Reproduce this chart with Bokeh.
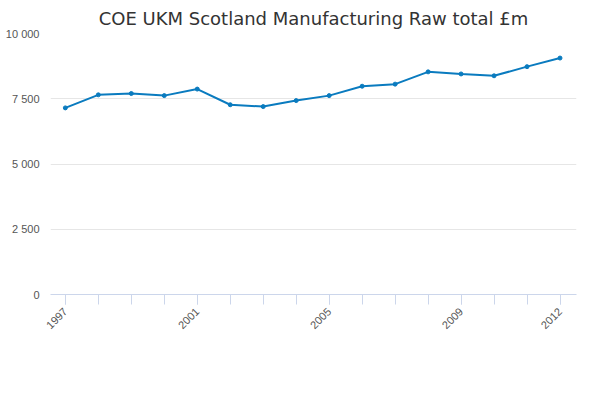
from bokeh.plotting import figure
from bokeh.models import Legend, Label, FixedTicker, Range1d, CustomJSTickFormatter
from bokeh.embed import file_html
from bokeh.resources import INLINE
import math

years = list(range(1997, 2013))
values = [7150, 7650, 7700, 7620, 7870, 7270, 7200, 7430, 7620, 7980, 8060, 8530, 8450, 8380, 8730, 9060]
series_name = "COE UKM Scotland Manufacturing Raw total £m"
y_ticks = [0, 2500, 5000, 7500, 10000]
x_ticks = [1997, 2001, 2005, 2009, 2012]

p = figure(width=584, height=384, output_backend="svg", toolbar_location=None,
           title="COE UKM Scotland Manufacturing Raw total £m",
           x_range=Range1d(1996.55, 2012.5), y_range=Range1d(0, 10000),
           min_border_left=50, min_border_right=8, min_border_top=8, min_border_bottom=90)
p.title.text_font = "DejaVu Sans"
p.title.text_font_size = "18px"
p.title.text_font_style = "normal"
p.title.text_color = "#333333"
p.title.align = "center"

r = p.line(years, values, line_color="#0a7bbf", line_width=2)
s = p.scatter(years, values, size=4, color="#0a7bbf")

p.xaxis.ticker = FixedTicker(ticks=x_ticks, minor_ticks=years)
p.xaxis.major_label_orientation = math.pi / 4
p.xaxis.major_label_text_font_size = "11px"
p.xaxis.major_label_text_color = "#555555"
p.xaxis.axis_line_color = "#ccd6eb"
p.xaxis.major_tick_line_color = "#ccd6eb"
p.xaxis.minor_tick_line_color = "#ccd6eb"
p.xaxis.major_tick_out = 10
p.xaxis.minor_tick_out = 10
p.xaxis.minor_tick_in = 0
p.xaxis.major_tick_in = 0

p.yaxis.ticker = FixedTicker(ticks=y_ticks)
p.yaxis.formatter = CustomJSTickFormatter(code="return tick.toLocaleString('en-US').replace(',', ' ');")
p.yaxis.axis_line_color = None
p.yaxis.major_tick_line_color = None
p.yaxis.minor_tick_line_color = None
p.yaxis.major_label_text_font_size = "11px"
p.yaxis.major_label_text_color = "#555555"

p.xgrid.grid_line_color = None
p.ygrid.grid_line_color = "#e6e6e6"
p.outline_line_color = None

p.add_layout(Label(x=-48, y=272, x_units="screen", y_units="screen", text="£m",
                   text_font_size="11px", text_color="#555555"))

legend = Legend(items=[(series_name, [r, s])], location=(45, -78), orientation="horizontal",
                border_line_color=None, background_fill_alpha=0, label_text_font_size="12px",
                label_text_font_style="bold", label_text_color="#333333")
p.add_layout(legend)

p.add_layout(Label(x=478, y=-92, x_units="screen", y_units="screen", text="Source:",
                   text_font_size="12px", text_color="#666666"))

open("out.html", "w").write(file_html(p, INLINE))
